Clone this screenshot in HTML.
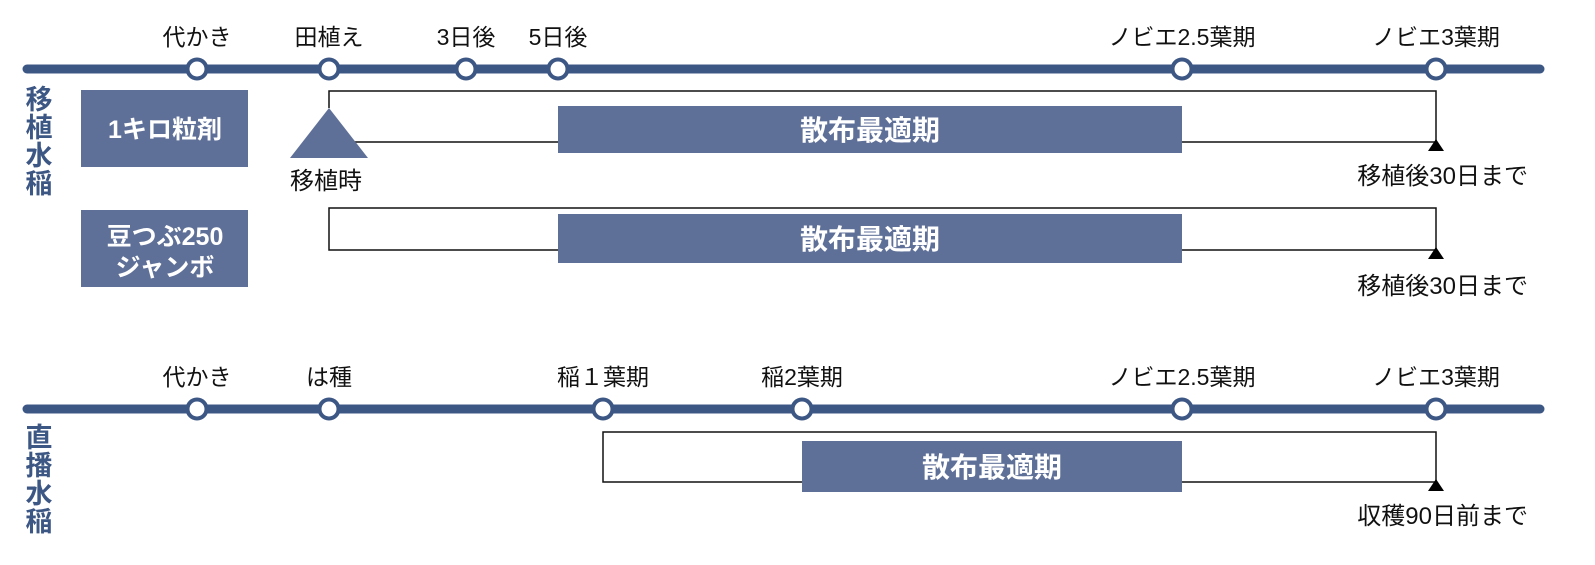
<!DOCTYPE html>
<html><head><meta charset="utf-8"><style>
body{margin:0;background:#fff;}
svg text{font-family:"Liberation Sans","Noto Sans CJK JP",sans-serif;}
</style></head><body>
<svg width="1595" height="560" viewBox="0 0 1595 560" xmlns="http://www.w3.org/2000/svg">
<g font-size="23" fill="#111" text-anchor="middle">
<text x="197" y="45">代かき</text>
<text x="329" y="45">田植え</text>
<text x="466" y="45">3日後</text>
<text x="558" y="45">5日後</text>
<text x="1182" y="45">ノビエ2.5葉期</text>
<text x="1436" y="45">ノビエ3葉期</text>
<text x="197" y="385">代かき</text>
<text x="329" y="385">は種</text>
<text x="603" y="385">稲１葉期</text>
<text x="802" y="385">稲2葉期</text>
<text x="1182" y="385">ノビエ2.5葉期</text>
<text x="1436" y="385">ノビエ3葉期</text>
</g>
<g stroke="#3d5785" stroke-width="9" stroke-linecap="round">
<line x1="27" y1="69" x2="1540" y2="69"/>
<line x1="27" y1="409" x2="1540" y2="409"/>
</g>
<g fill="#fff" stroke="#3d5785" stroke-width="4">
<circle cx="197" cy="69" r="9.5"/><circle cx="329" cy="69" r="9.5"/><circle cx="466" cy="69" r="9.5"/><circle cx="558" cy="69" r="9.5"/><circle cx="1182" cy="69" r="9.5"/><circle cx="1436" cy="69" r="9.5"/>
<circle cx="197" cy="409" r="9.5"/><circle cx="329" cy="409" r="9.5"/><circle cx="603" cy="409" r="9.5"/><circle cx="802" cy="409" r="9.5"/><circle cx="1182" cy="409" r="9.5"/><circle cx="1436" cy="409" r="9.5"/>
</g>
<g font-size="27" font-weight="bold" fill="#3d5785" text-anchor="middle">
<text x="39" y="109">移</text><text x="39" y="137">植</text><text x="39" y="165">水</text><text x="39" y="193">稲</text>
<text x="39" y="447">直</text><text x="39" y="475">播</text><text x="39" y="503">水</text><text x="39" y="531">稲</text>
</g>
<rect x="81" y="90" width="167" height="77" fill="#5f7098"/>
<rect x="81" y="210" width="167" height="77" fill="#5f7098"/>
<g fill="#fff" font-weight="bold" font-size="25" text-anchor="middle">
<text x="165" y="138">1キロ粒剤</text>
<text x="165" y="245">豆つぶ250</text>
<text x="165" y="276">ジャンボ</text>
</g>
<g fill="none" stroke="#111" stroke-width="1.5">
<polyline points="329,108 329,91 1436,91 1436,142 350,142"/>
<polyline points="1436,250 1436,208 329,208 329,250 1436,250"/>
<polyline points="1436,482 1436,432 603,432 603,482 1436,482"/>
</g>
<polygon points="329,108 290,158 368,158" fill="#5f7098"/>
<g fill="#000">
<polygon points="1436,139 1428,151 1444,151"/>
<polygon points="1436,247 1428,259 1444,259"/>
<polygon points="1436,479 1428,491 1444,491"/>
</g>
<rect x="558" y="106" width="624" height="47" fill="#5f7098"/>
<rect x="558" y="214" width="624" height="49" fill="#5f7098"/>
<rect x="802" y="441" width="380" height="51" fill="#5f7098"/>
<g fill="#fff" font-weight="bold" font-size="28" text-anchor="middle">
<text x="870" y="140">散布最適期</text>
<text x="870" y="249">散布最適期</text>
<text x="992" y="477">散布最適期</text>
</g>
<g font-size="24" fill="#111">
<text x="326" y="189" text-anchor="middle">移植時</text>
<text x="1528" y="184" text-anchor="end">移植後30日まで</text>
<text x="1528" y="294" text-anchor="end">移植後30日まで</text>
<text x="1528" y="524" text-anchor="end">収穫90日前まで</text>
</g>
</svg>
</body></html>
